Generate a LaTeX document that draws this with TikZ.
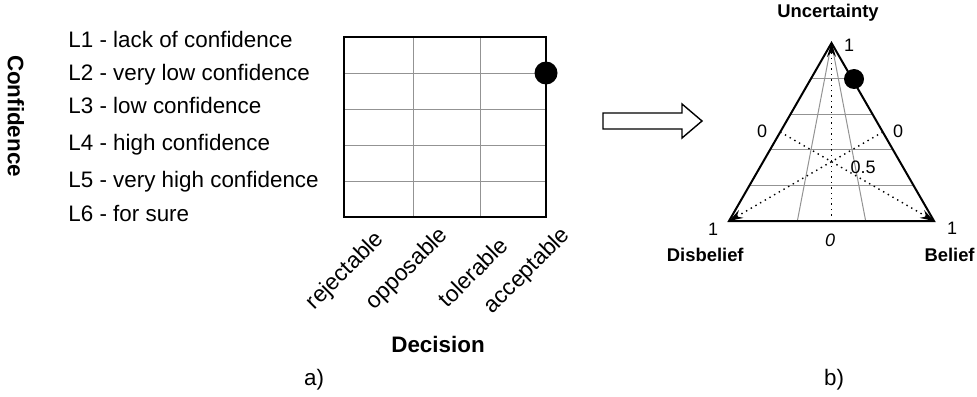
\documentclass[tikz,border=0pt]{standalone}
\usepackage{fontspec}
\setmainfont{Liberation Sans}
\usetikzlibrary{arrows.meta,calc}

\begin{document}
\begin{tikzpicture}[
    x=0.5pt,
    y=-0.5pt,
    level/.style={
      anchor=base west,
      inner sep=0pt,
      font=\fontsize{11.2}{13}\selectfont
    },
    choice/.style={
      rotate=45,
      anchor=east,
      inner sep=0pt,
      font=\fontsize{11.4}{13}\selectfont
    },
    axis/.style={
      inner sep=0pt,
      font=\fontsize{11.2}{13}\selectfont\bfseries
    },
    value/.style={
      anchor=base,
      inner sep=0pt,
      font=\fontsize{9}{11}\selectfont
    },
    corner/.style={
      inner sep=0pt,
      font=\fontsize{9.2}{11}\selectfont\bfseries
    },
    thin grid/.style={
      gray!85,
      line width=0.5pt
    },
    frame/.style={
      line width=1pt,
      line join=miter
    },
    median/.style={
      -{Stealth[length=7pt,width=4.5pt,inset=2.5pt]},
      line width=0.7pt,
      dash pattern=on 0.7pt off 2pt
    },
    marker/.style={
      fill=black,
      circle,
      inner sep=0pt
    }
  ]
    \useasboundingbox (0,0) rectangle (977,396);

    % a) levels of confidence against decisions
    \foreach \y/\l [count=\i] in {47.5/{L1 - lack of confidence},80/{L2 - very low confidence},
        113/{L3 - low confidence},150/{L4 - high confidence},
        187/{L5 - very high confidence},221/{L6 - for sure}}
      \node[level] (lev\i) at (68,\y) {\l};

    \foreach \y in {73,109,145,181}
      \draw[thin grid] (344,\y) -- (546,\y);
    \foreach \x in {413,480}
      \draw[thin grid] (\x,37) -- (\x,217);
    \draw[frame] (344,37) rectangle (546,217);
    \node[marker,minimum size=11.5pt] (pick) at (546,73) {};

    \foreach \x/\y/\l in {381/236/rejectable,445/232/opposable,504/241/tolerable,567/232/acceptable}
      \node[choice] (dec-\l) at (\x,\y) {\l};

    \node[axis,rotate=-90] (confidence) at (16,116) {Confidence};
    \node[axis] (decision) at (438,344) {Decision};
    \node[level,anchor=base] (parta) at (314,385) {a)};

    % block arrow
    \draw[line width=0.7pt,line join=miter] (603,113) -- (682,113) -- (682,104) -- (702,121)
      -- (682,138) -- (682,129) -- (603,129) -- cycle;

    % b) opinion triangle
    \coordinate (U) at (831.5,43);
    \coordinate (D) at (729,221);
    \coordinate (B) at (934,221);

    \foreach \k in {1,...,4}
      \draw[thin grid] ($(U)!\k/5!(D)$) -- ($(U)!\k/5!(B)$);
    \draw[thin grid] (U) -- ($(D)!1/3!(B)$);
    \draw[thin grid] (U) -- ($(D)!2/3!(B)$);

    \draw[median] ($(D)!0.5!(B)$) -- (U);
    \draw[median] ($(U)!0.5!(B)$) -- (D);
    \draw[median] ($(U)!0.5!(D)$) -- (B);
    \draw[frame] (U) -- (D) -- (B) -- cycle;
    \node[marker,minimum size=10pt] (opinion) at (854,79) {};

    \node[corner] (unc) at (828,13) {Uncertainty};
    \node[corner,anchor=base east] (dis) at (744,261) {Disbelief};
    \node[corner,anchor=base east] (bel) at (975,261) {Belief};

    \node[value] (u1) at (849,51) {1};
    \node[value] (d0) at (762,137) {0};
    \node[value] (b0) at (898,137) {0};
    \node[value] (half) at (863,173) {0.5};
    \node[value] (d1) at (713,235) {1};
    \node[value] (b1) at (952,234) {1};
    \node[value] (u0) at (830,246) {\itshape 0};

    \node[level,anchor=base] (partb) at (834,385) {b)};
  \end{tikzpicture}
\end{document}
